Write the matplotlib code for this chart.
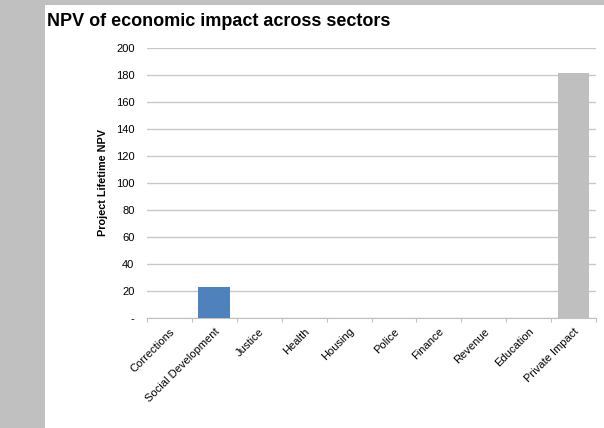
import matplotlib.pyplot as plt
from matplotlib.patches import Rectangle

sectors = ['Corrections', 'Social Development', 'Justice', 'Health', 'Housing',
           'Police', 'Finance', 'Revenue', 'Education', 'Private Impact']
npv = [0, 23.2, 0, 0, 0, 0, 0, 0, 0, 181.3]
bar_colors = ['#4f81bd'] * 9 + ['#bfbfbf']
y_ticks = [0, 20, 40, 60, 80, 100, 120, 140, 160, 180, 200]
y_labels = ['-'] + [str(v) for v in y_ticks[1:]]

plt.rcParams['font.family'] = ['Liberation Sans', 'DejaVu Sans']

W, H = 604, 428
fig = plt.figure(figsize=(W / 100, H / 100), dpi=100)
fig.patch.set_facecolor('white')

# gray frame on the left and top, like the slide it came from
fig.add_artist(Rectangle((0, 0), 45 / W, 1, transform=fig.transFigure,
                         facecolor='#c0c0c0', edgecolor='none', zorder=0))
fig.add_artist(Rectangle((0, 1 - 5 / H), 1, 5 / H, transform=fig.transFigure,
                         facecolor='#c0c0c0', edgecolor='none', zorder=0))

ax = fig.add_axes([147 / W, 1 - 318 / H, (596 - 147) / W, (318 - 48) / H])
x = range(len(sectors))
ax.bar(x, npv, width=0.71, color=bar_colors, zorder=3)

ax.set_xlim(-0.5, len(sectors) - 0.5)
ax.set_ylim(0, 200)
ax.set_yticks(y_ticks)
ax.set_yticklabels(y_labels, fontsize=8)
ax.yaxis.grid(True, color='#c8c8c8', linewidth=1, zorder=0)
ax.tick_params(axis='y', length=0, pad=9)

# category tick marks sit between bars
ax.set_xticks([i - 0.5 for i in range(len(sectors) + 1)], minor=False)
ax.set_xticklabels([])
ax.tick_params(axis='x', which='major', length=3, color='#c0c0c0', direction='out')
ax.set_xticks(list(x), minor=True)
ax.set_xticklabels(sectors, minor=True, rotation=45, ha='right',
                   rotation_mode='anchor', fontsize=8)
ax.tick_params(axis='x', which='minor', length=0, pad=6)

for s in ['top', 'right', 'left']:
    ax.spines[s].set_visible(False)
ax.spines['bottom'].set_color('#c0c0c0')

ax.set_ylabel('Project Lifetime NPV', fontsize=7.8, fontweight='bold', labelpad=6)

fig.text(47 / W, 1 - 21 / H, 'NPV of economic impact across sectors',
         fontsize=13, fontweight='bold', va='center', ha='left')

fig.savefig('out.png', dpi=100)
